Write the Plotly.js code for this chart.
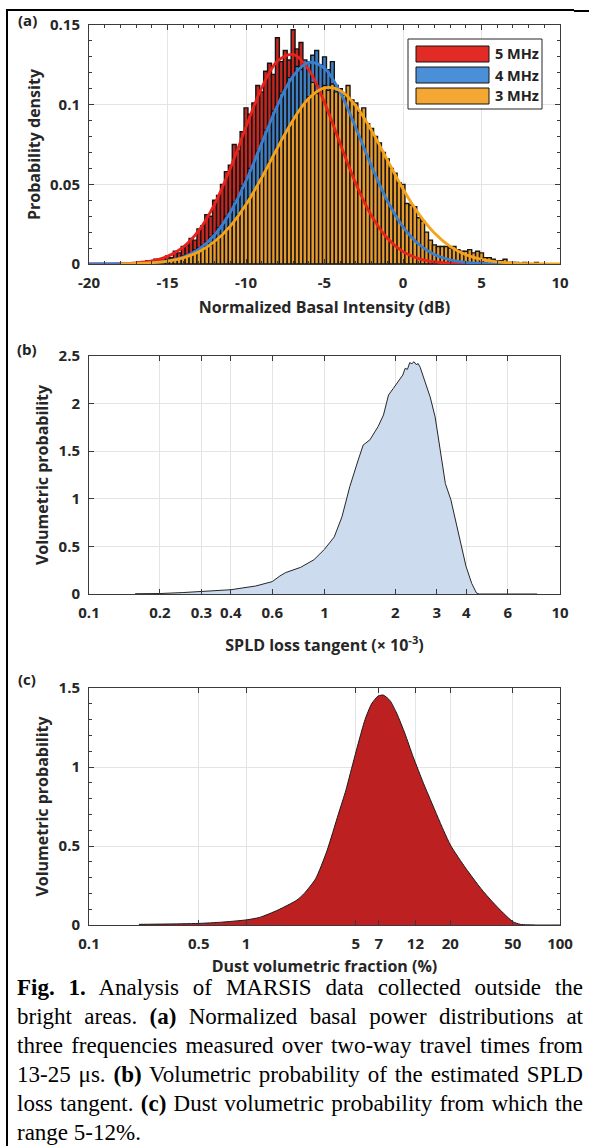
<!DOCTYPE html>
<html>
<head>
<meta charset="utf-8">
<script src="https://cdn.plot.ly/plotly-3.0.1.min.js"></script>
<style>
html,body{margin:0;padding:0;background:#fff;}
#wrap{position:relative;width:589px;height:1146px;overflow:hidden;background:#fff;}
#chart{position:absolute;left:0;top:0;width:589px;height:1146px;}
.cap{position:absolute;left:17px;top:973px;width:566px;font-family:"Liberation Serif","Times New Roman",serif;font-size:23px;line-height:29px;color:#000;}
.cap div{text-align:justify;text-align-last:justify;}
.cap div.last{text-align:left;text-align-last:left;}
.bl{position:absolute;background:#000;}
</style>
</head>
<body>
<div id="wrap">
  <div id="chart"></div>
  <div class="bl" style="left:6px;top:9px;width:2px;height:1137px;"></div>
  <div class="bl" style="left:6px;top:9px;width:568px;height:2px;"></div>
  <div class="bl" style="left:574px;top:10px;width:15px;height:2px;"></div>
  <div class="cap">
    <div><b>Fig. 1.</b> Analysis of MARSIS data collected outside the</div>
    <div>bright areas. <b>(a)</b> Normalized basal power distributions at</div>
    <div>three frequencies measured over two-way travel times from</div>
    <div>13-25 μs. <b>(b)</b> Volumetric probability of the estimated SPLD</div>
    <div>loss tangent. <b>(c)</b> Dust volumetric probability from which the</div>
    <div class="last">range 5-12%.</div>
  </div>
</div>
<script>
// ---------------- DATA ----------------
// (a) histograms of normalized basal intensity (dB), 0.25 dB bins
const binWidth = 0.25;
const start5MHz = -17;
const start4MHz = -18;
const start3MHz = -17;
const hist5MHz = [
 0.000,0.001,0.000,0.002, 0.001,0.003,0.002,0.004, 0.005,0.004,0.008,0.007,
 0.011,0.012,0.016,0.015, 0.022,0.024,0.031,0.030, 0.040,0.043,0.050,0.058,
 0.062,0.075,0.071,0.083, 0.098,0.094,0.101,0.112, 0.108,0.121,0.126,0.119,
 0.142,0.127,0.134,0.128, 0.147,0.135,0.139,0.124, 0.127,0.114,0.118,0.104,
 0.099,0.097,0.086,0.083, 0.073,0.071,0.061,0.057, 0.049,0.046,0.038,0.036,
 0.029,0.027,0.022,0.020, 0.016,0.014,0.011,0.010, 0.008,0.007,0.005,0.004,
 0.004,0.003,0.002,0.002, 0.001,0.001,0.001,0.001, 0.000,0.001,0.000,0.000,
 0.000
];
const hist4MHz = [
 0.000,0.000,0.000,0.000, 0.000,0.001,0.000,0.001, 0.001,0.001,0.002,0.001,
 0.002,0.003,0.003,0.004, 0.005,0.006,0.007,0.009, 0.010,0.012,0.014,0.017,
 0.019,0.023,0.025,0.030, 0.033,0.039,0.042,0.049, 0.053,0.060,0.064,0.071,
 0.077,0.084,0.088,0.096, 0.100,0.107,0.110,0.117, 0.118,0.124,0.122,0.128,
 0.126,0.131,0.134,0.125, 0.130,0.122,0.127,0.112, 0.110,0.104,0.100,0.091,
 0.087,0.081,0.073,0.068, 0.062,0.057,0.050,0.045, 0.041,0.036,0.031,0.027,
 0.024,0.021,0.018,0.015, 0.013,0.012,0.010,0.009, 0.007,0.006,0.005,0.004,
 0.004,0.003,0.003,0.002, 0.002,0.002,0.001,0.001, 0.001,0.001,0.000,0.000,
 0.000
];
const hist3MHz = [
 0.000,0.000,0.001,0.000, 0.001,0.001,0.001,0.002, 0.002,0.002,0.003,0.003,
 0.004,0.005,0.006,0.007, 0.008,0.009,0.011,0.012, 0.014,0.016,0.019,0.021,
 0.024,0.027,0.031,0.034, 0.038,0.042,0.046,0.050, 0.055,0.059,0.064,0.068,
 0.073,0.077,0.082,0.086, 0.091,0.094,0.098,0.101, 0.105,0.114,0.107,0.110,
 0.112,0.109,0.113,0.108, 0.110,0.106,0.112,0.103, 0.101,0.095,0.098,0.088,
 0.085,0.080,0.076,0.070, 0.066,0.060,0.057,0.051, 0.050,0.038,0.037,0.036,
 0.029,0.027,0.020,0.015, 0.012,0.011,0.011,0.011, 0.010,0.011,0.009,0.008,
 0.008,0.009,0.007,0.008, 0.007,0.004,0.004,0.003, 0.002,0.002,0.003,0.001,
 0.001,0.001,0.000,0.001, 0.000,0.000,0.001,0.000,
 0.000
];
// (a) Gaussian fit curves (probability density vs dB)
const fit5X = [-20,-19,-18,-17,-16,-15,-14,-13,-12,-11,-10,-9,-8,-7,-6,-5,-4,-3,-2,-1,0,1,2,3,4,5,6];
const fit5Y = [0.0000,0.0001,0.0002,0.0007,0.0019,0.0048,0.0106,0.0211,0.0376,0.0600,0.0860,0.1105,0.1273,0.1315,0.1219,0.1013,0.0755,0.0504,0.0302,0.0162,0.0078,0.0034,0.0013,0.0005,0.0001,0.0000,0.0000];
const fit4X = [-20,-19,-18,-17,-16,-15,-14,-13,-12,-11,-10,-9,-8,-7,-6,-5,-4,-3,-2,-1,0,1,2,3,4,5,6,7,8];
const fit4Y = [0.0000,0.0000,0.0001,0.0002,0.0007,0.0018,0.0043,0.0093,0.0183,0.0325,0.0521,0.0757,0.0994,0.1179,0.1265,0.1228,0.1077,0.0854,0.0613,0.0397,0.0233,0.0124,0.0059,0.0026,0.0010,0.0004,0.0001,0.0000,0.0000];
const fit3X = [-18,-17,-16,-15,-14,-13,-12,-11,-10,-9,-8,-7,-6,-5,-4,-3,-2,-1,0,1,2,3,4,5,6,7,8,9,10];
const fit3Y = [0.0001,0.0003,0.0008,0.0018,0.0039,0.0077,0.0141,0.0238,0.0373,0.0542,0.0728,0.0904,0.1040,0.1106,0.1089,0.0992,0.0837,0.0653,0.0471,0.0315,0.0195,0.0111,0.0059,0.0029,0.0013,0.0006,0.0002,0.0001,0.0000];
const seriesNames = ['5 MHz','4 MHz','3 MHz'];

// (b) SPLD loss tangent (x 1e-3) volumetric probability
const lossTangent = [0.157,0.2,0.25,0.3,0.4,0.51,0.6,0.647,0.684,0.792,0.902,1.0,1.10,1.186,1.25,1.28,1.39,1.46,1.56,1.69,1.78,1.87,1.96,2.09,2.15,2.20,2.25,2.30,2.35,2.40,2.45,2.50,2.55,2.63,2.81,2.95,3.09,3.26,3.44,3.64,3.82,3.99,4.22,4.42,4.54,6.0,8.0];
const lossProb    = [0.003,0.005,0.015,0.025,0.045,0.084,0.13,0.19,0.225,0.28,0.36,0.47,0.60,0.81,1.02,1.127,1.407,1.565,1.62,1.76,1.88,2.09,2.16,2.25,2.30,2.37,2.36,2.43,2.42,2.44,2.41,2.42,2.38,2.28,2.07,1.86,1.51,1.16,0.99,0.71,0.50,0.29,0.11,0.01,0,0,0];
const lossTicks = [0.1,0.2,0.3,0.4,0.6,1,2,3,4,6,10];

// (c) dust volumetric fraction (%) volumetric probability
const dustFrac = [0.208,0.3,0.5,0.7,1.0,1.22,1.6,2.11,2.35,2.78,3.28,3.87,4.32,4.59,5.19,5.73,6.31,6.96,7.5,8.27,9.12,10.3,11.6,13.5,14.7,18.1,20.2,25.2,31.4,37.1,43.7,50.1,56,70,100];
const dustProb = [0.004,0.006,0.01,0.018,0.032,0.048,0.095,0.158,0.20,0.294,0.47,0.70,0.85,0.95,1.15,1.30,1.40,1.45,1.455,1.42,1.34,1.21,1.065,0.897,0.81,0.60,0.50,0.357,0.23,0.147,0.074,0.021,0.004,0,0];
const dustTicks = [0.1,0.5,1,5,7,12,20,50,100];

const dbTicks = [-20,-15,-10,-5,0,5,10];

// ---------------- LAYOUT HELPERS ----------------
const W = 589, H = 1146;
const px = x => x / W;
const py = y => 1 - y / H;
const binCenters = (start, n) => Array.from({length: n}, (_, i) => start + i * binWidth);

const COL5 = '#e32b26', COL4 = '#4a8fd8', COL3 = '#f5a733';
const BAR5 = '#c42620', BAR4 = '#3f7fc4', BAR3 = '#e69a2c';
const LINE5 = '#e8231c', LINE4 = '#3a7fcf', LINE3 = '#f4a31a';
const EDGE = '#141414';

const traces = [
  {type:'bar', x: binCenters(start5MHz, hist5MHz.length), y: hist5MHz, width: binWidth, name: seriesNames[0],
   marker:{color: BAR5, opacity:1, line:{color:EDGE, width:1.4}}, xaxis:'x', yaxis:'y', showlegend:false},
  {type:'bar', x: binCenters(start4MHz, hist4MHz.length), y: hist4MHz, width: binWidth, name: seriesNames[1],
   marker:{color: BAR4, opacity:1, line:{color:EDGE, width:1.4}}, xaxis:'x', yaxis:'y', showlegend:false},
  {type:'bar', x: binCenters(start3MHz, hist3MHz.length), y: hist3MHz, width: binWidth, name: seriesNames[2],
   marker:{color: BAR3, opacity:1, line:{color:EDGE, width:1.4}}, xaxis:'x', yaxis:'y', showlegend:false},
  {type:'scatter', mode:'lines', x: fit5X, y: fit5Y, line:{color: LINE5, width:2.8, shape:'spline'}, xaxis:'x', yaxis:'y', showlegend:false},
  {type:'scatter', mode:'lines', x: fit4X, y: fit4Y, line:{color: LINE4, width:2.8, shape:'spline'}, xaxis:'x', yaxis:'y', showlegend:false},
  {type:'scatter', mode:'lines', x: fit3X, y: fit3Y, line:{color: LINE3, width:2.8, shape:'spline'}, xaxis:'x', yaxis:'y', showlegend:false},
  {type:'scatter', mode:'lines', x: lossTangent, y: lossProb, fill:'tozeroy', fillcolor:'#ccdcee',
   line:{color:'#262626', width:1}, xaxis:'x2', yaxis:'y2', showlegend:false},
  {type:'scatter', mode:'lines', x: dustFrac, y: dustProb, fill:'tozeroy', fillcolor:'#bd2020',
   line:{color:'#1a1a1a', width:1, shape:'spline', smoothing:0.6}, xaxis:'x3', yaxis:'y3', showlegend:false}
];

const tickFont = {family:'Open Sans', size:15, color:'#262626', weight:'bold'};
const titleFont = {family:'Open Sans', size:16, color:'#262626', weight:'bold'};
const labFont = {family:'Open Sans', size:15, weight:'bold', color:'#222'};
const legFont = {family:'Open Sans', size:14.5, weight:'bold', color:'#222'};
const axBase = {
  showline:true, linecolor:'#3a3a3a', linewidth:1, mirror:'ticks',
  ticks:'inside', ticklen:5, tickcolor:'#3a3a3a', tickwidth:1,
  showgrid:true, gridcolor:'#e4e4e4', gridwidth:1, zeroline:false,
  tickfont: tickFont, automargin:false, fixedrange:true
};
const xBase = Object.assign({}, axBase, {ticklabelstandoff:5});
const yBase = Object.assign({}, axBase, {ticklabelstandoff:5});
const xDom = [px(89), px(560)];

const layout = {
  width: W, height: H,
  margin:{l:0, r:0, t:0, b:0},
  paper_bgcolor:'rgba(0,0,0,0)', plot_bgcolor:'#ffffff',
  barmode:'overlay', bargap:0,
  showlegend:false,
  xaxis: Object.assign({}, xBase, {
    domain: xDom, anchor:'y', range:[-20,10],
    tickmode:'array', tickvals: dbTicks, ticktext: dbTicks.map(String),
    minor:{ticks:'inside', dtick:1, ticklen:3, tickcolor:'#3a3a3a', showgrid:false},
    title:{text:'Normalized Basal Intensity (dB)', font: titleFont, standoff: 10}
  }),
  yaxis: Object.assign({}, yBase, {
    domain:[py(264), py(25)], anchor:'x', range:[0,0.15], dtick:0.05, tick0:0,
    minor:{ticks:'inside', dtick:0.01, ticklen:3, tickcolor:'#3a3a3a', showgrid:false},
    title:{text:'Probability density', font: titleFont, standoff: 5}
  }),
  xaxis2: Object.assign({}, xBase, {
    domain: xDom, anchor:'y2', type:'log', range:[-1,1],
    tickmode:'array', tickvals: lossTicks, ticktext: lossTicks.map(String),
    title:{text:'SPLD loss tangent (× 10<sup>-3</sup>)', font: titleFont, standoff: 18}
  }),
  yaxis2: Object.assign({}, yBase, {
    domain:[py(594), py(356)], anchor:'x2', range:[0,2.5], dtick:0.5, tick0:0,
    title:{text:'Volumetric probability', font: titleFont, standoff: 5}
  }),
  xaxis3: Object.assign({}, xBase, {
    domain: xDom, anchor:'y3', type:'log', range:[-1,2],
    tickmode:'array', tickvals: dustTicks, ticktext: dustTicks.map(String),
    title:{text:'Dust volumetric fraction (%)', font: titleFont, standoff: 8}
  }),
  yaxis3: Object.assign({}, yBase, {
    domain:[py(925), py(688)], anchor:'x3', range:[0,1.5], dtick:0.5, tick0:0,
    minor:{ticks:'inside', dtick:0.1, ticklen:3, tickcolor:'#3a3a3a', showgrid:false},
    title:{text:'Volumetric probability', font: titleFont, standoff: 5}
  }),
  shapes: [
    {type:'rect', xref:'paper', yref:'paper', x0:px(408), x1:px(542), y0:py(109), y1:py(39), fillcolor:'#ffffff', line:{color:'#262626', width:1}, layer:'above'},
    {type:'rect', xref:'paper', yref:'paper', x0:px(416), x1:px(489), y0:py(62), y1:py(46), fillcolor:COL5, line:{color:EDGE, width:1}, layer:'above'},
    {type:'rect', xref:'paper', yref:'paper', x0:px(416), x1:px(489), y0:py(83), y1:py(67), fillcolor:COL4, line:{color:EDGE, width:1}, layer:'above'},
    {type:'rect', xref:'paper', yref:'paper', x0:px(416), x1:px(489), y0:py(104), y1:py(88), fillcolor:COL3, line:{color:EDGE, width:1}, layer:'above'}
  ],
  annotations: [
    {text:'(a)', xref:'paper', yref:'paper', x:px(27), y:py(20), xanchor:'center', yanchor:'middle', showarrow:false, font:labFont},
    {text:'(b)', xref:'paper', yref:'paper', x:px(27), y:py(349), xanchor:'center', yanchor:'middle', showarrow:false, font:labFont},
    {text:'(c)', xref:'paper', yref:'paper', x:px(27), y:py(679), xanchor:'center', yanchor:'middle', showarrow:false, font:labFont},
    {text: seriesNames[0], xref:'paper', yref:'paper', x:px(493), y:py(54), xanchor:'left', yanchor:'middle', showarrow:false, font:legFont},
    {text: seriesNames[1], xref:'paper', yref:'paper', x:px(493), y:py(75), xanchor:'left', yanchor:'middle', showarrow:false, font:legFont},
    {text: seriesNames[2], xref:'paper', yref:'paper', x:px(493), y:py(96), xanchor:'left', yanchor:'middle', showarrow:false, font:legFont}
  ]
};

Plotly.newPlot('chart', traces, layout, {displayModeBar:false, staticPlot:true});
</script>
</body>
</html>
